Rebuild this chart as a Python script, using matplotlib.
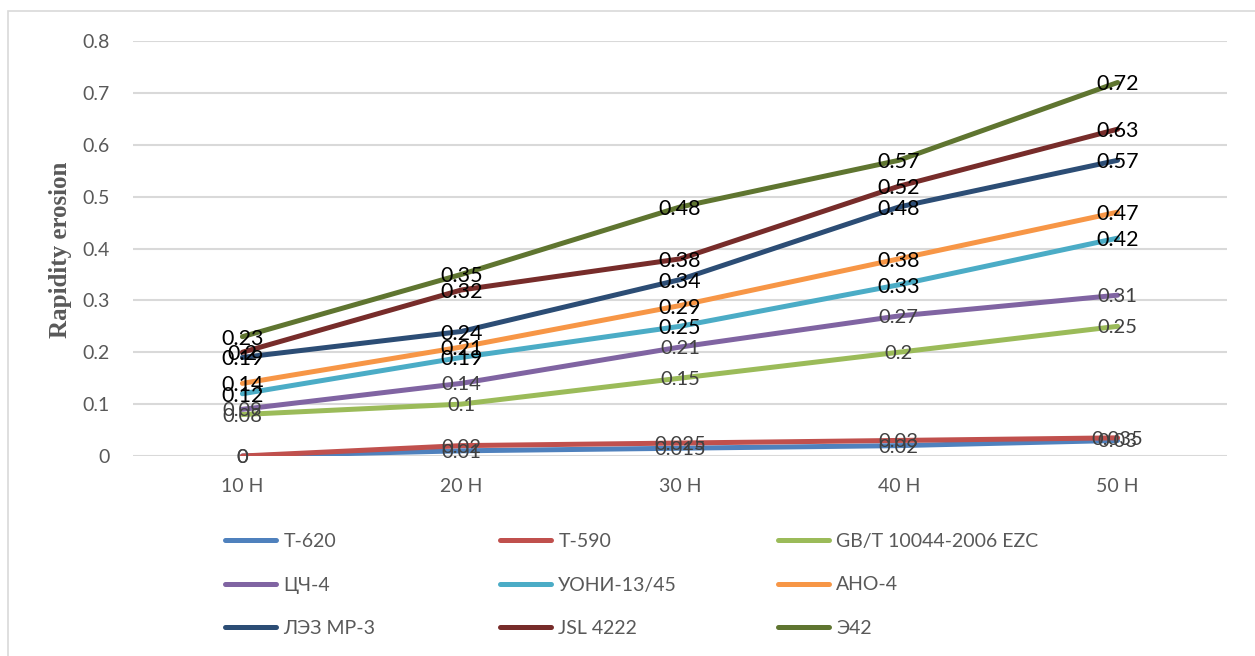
import matplotlib.pyplot as plt
from matplotlib.patches import Rectangle

# categories and series
categories = ['10 H', '20 H', '30 H', '40 H', '50 H']
names = ['T-620', 'T-590', 'GB/T 10044-2006 EZC',
         'ЦЧ-4', 'УОНИ-13/45', 'АНО-4',
         'ЛЭЗ MP-3', 'JSL 4222', 'Э42']
t620 = [0, 0.01, 0.015, 0.02, 0.03]
t590 = [0, 0.02, 0.025, 0.03, 0.035]
gbt = [0.08, 0.1, 0.15, 0.2, 0.25]
cch4 = [0.09, 0.14, 0.21, 0.27, 0.31]
uoni = [0.12, 0.19, 0.25, 0.33, 0.42]
ano4 = [0.14, 0.21, 0.29, 0.38, 0.47]
lez = [0.19, 0.24, 0.34, 0.48, 0.57]
jsl = [0.2, 0.32, 0.38, 0.52, 0.63]
e42 = [0.23, 0.35, 0.48, 0.57, 0.72]
series = [t620, t590, gbt, cch4, uoni, ano4, lez, jsl, e42]

colors = ['#4F81BD', '#C0504D', '#9BBB59', '#8064A2', '#4BACC6',
          '#F79646', '#2C4D75', '#772C2A', '#5F7530']
# first four series have small grey labels, the rest big black ones
big_label = [False, False, False, False, True, True, True, True, True]

plt.rcParams['font.family'] = ['Lato', 'DejaVu Sans']

fig = plt.figure(figsize=(12.55, 6.56), dpi=100)
ax = fig.add_axes([133 / 1255, 1 - 456 / 656, (1227 - 133) / 1255, (456 - 41) / 656])

# outer chart border
fig.add_artist(Rectangle((8 / 1255, -0.1), 1.2, 1 - 11 / 656 + 0.1,
                         transform=fig.transFigure, fill=False,
                         edgecolor='#D9D9D9', lw=1.2))

x = list(range(len(categories)))
handles = []
for vals, name, c, big in zip(series, names, colors, big_label):
    ln, = ax.plot(x, vals, color=c, lw=3.6, solid_capstyle='round', label=name, zorder=3)
    handles.append(ln)
    for xi, v in zip(x, vals):
        ax.text(xi, v, f'{v:g}', ha='center', va='center_baseline',
                fontsize=15.5 if big else 14.5,
                color='black' if big else '#404040', zorder=4)

ax.set_xlim(-0.5, 4.5)
ax.set_ylim(0, 0.8)
ax.set_yticks([0, 0.1, 0.2, 0.3, 0.4, 0.5, 0.6, 0.7, 0.8])
ax.set_yticklabels(['0', '0.1', '0.2', '0.3', '0.4', '0.5', '0.6', '0.7', '0.8'])
ax.set_xticks(x)
ax.set_xticklabels(categories)
ax.tick_params(length=0, labelsize=14, labelcolor='#595959')
ax.tick_params(axis='y', pad=17)
ax.tick_params(axis='x', pad=16)
ax.grid(axis='y', color='#D9D9D9', lw=1.5)
ax.set_axisbelow(True)
for s in ax.spines.values():
    s.set_visible(False)

fig.text(60 / 1255, 1 - 250 / 656, 'Rapidity erosion', rotation=90,
         ha='center', va='center', fontsize=18, fontweight='bold',
         family='Liberation Serif', color='#595959')

# legend: three columns, three rows
col_x = [225, 500, 778]
for c in range(3):
    hs = [handles[r * 3 + c] for r in range(3)]
    fig.legend(handles=hs, labels=[h.get_label() for h in hs],
               loc='center left', bbox_to_anchor=(col_x[c] / 1255, 1 - 585 / 656),
               frameon=False, fontsize=14, labelcolor='#595959',
               handlelength=2.6, handletextpad=0.4, borderpad=0,
               borderaxespad=0, labelspacing=1.36)

fig.savefig('out.png', dpi=100)
